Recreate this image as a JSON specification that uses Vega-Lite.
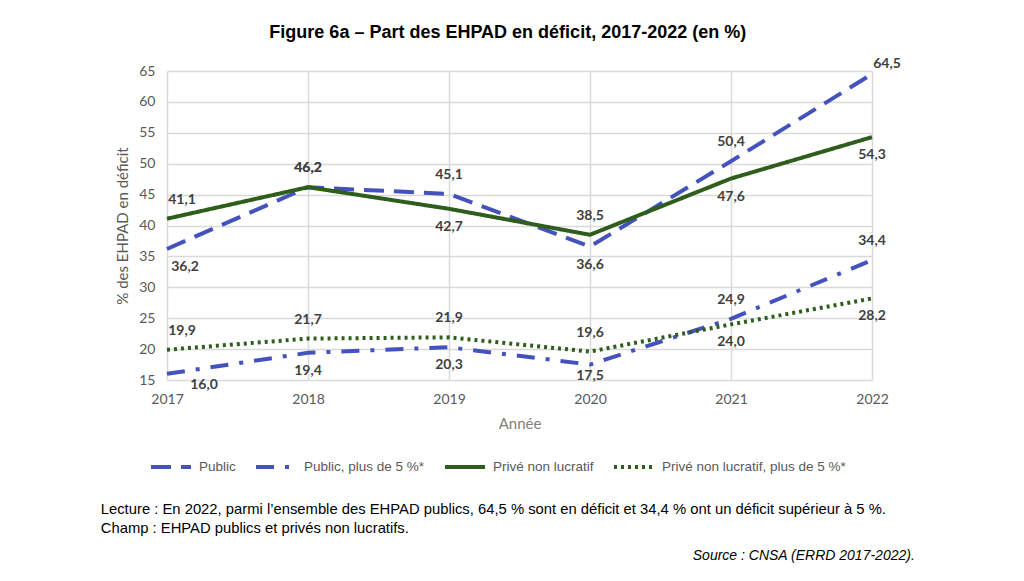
{
  "$schema": "https://vega.github.io/schema/vega-lite/v6.json",
  "padding": {"left": 100, "top": 24, "right": 10, "bottom": 5},
  "config": {
    "locale": {"number": {"decimal": ",", "thousands": " ", "grouping": [3], "currency": ["", " €"]}},
    "view": {"stroke": null},
    "font": "Lato"
  },
  "title": {
    "text": "Figure 6a – Part des EHPAD en déficit, 2017-2022 (en %)",
    "font": "Liberation Sans", "fontSize": 18, "fontWeight": "bold", "color": "#000000",
    "anchor": "middle", "offset": 15
  },
  "vconcat": [
    {
      "title": {
        "text": "Source : CNSA (ERRD 2017-2022).",
        "orient": "bottom", "anchor": "end",
        "font": "Liberation Sans", "fontStyle": "italic", "fontWeight": "normal",
        "fontSize": 14, "color": "#000000", "offset": 13, "dx": 14
      },
      "vconcat": [
        {
          "title": {
            "text": [
              "Lecture : En 2022, parmi l’ensemble des EHPAD publics, 64,5 % sont en déficit et 34,4 % ont un déficit supérieur à 5 %.",
              "Champ : EHPAD publics et privés non lucratifs."
            ],
            "orient": "bottom", "anchor": "start", "frame": "bounds",
            "font": "Liberation Sans", "fontWeight": "normal", "fontSize": 14.8,
            "lineHeight": 19, "color": "#000000", "offset": 71, "dx": -15
          },
          "width": 705,
          "height": 309,
          "data": {
            "values": [
              {"year": 2017, "serie": "Public", "groupe": "ensemble", "value": 36.2},
              {"year": 2018, "serie": "Public", "groupe": "ensemble", "value": 46.2},
              {"year": 2019, "serie": "Public", "groupe": "ensemble", "value": 45.1},
              {"year": 2020, "serie": "Public", "groupe": "ensemble", "value": 36.6},
              {"year": 2021, "serie": "Public", "groupe": "ensemble", "value": 50.4},
              {"year": 2022, "serie": "Public", "groupe": "ensemble", "value": 64.5},
              {"year": 2017, "serie": "Public, plus de 5 %*", "groupe": "plus5", "value": 16.0},
              {"year": 2018, "serie": "Public, plus de 5 %*", "groupe": "plus5", "value": 19.4},
              {"year": 2019, "serie": "Public, plus de 5 %*", "groupe": "plus5", "value": 20.3},
              {"year": 2020, "serie": "Public, plus de 5 %*", "groupe": "plus5", "value": 17.5},
              {"year": 2021, "serie": "Public, plus de 5 %*", "groupe": "plus5", "value": 24.9},
              {"year": 2022, "serie": "Public, plus de 5 %*", "groupe": "plus5", "value": 34.4},
              {"year": 2017, "serie": "Privé non lucratif", "groupe": "ensemble", "value": 41.1},
              {"year": 2018, "serie": "Privé non lucratif", "groupe": "ensemble", "value": 46.2},
              {"year": 2019, "serie": "Privé non lucratif", "groupe": "ensemble", "value": 42.7},
              {"year": 2020, "serie": "Privé non lucratif", "groupe": "ensemble", "value": 38.5},
              {"year": 2021, "serie": "Privé non lucratif", "groupe": "ensemble", "value": 47.6},
              {"year": 2022, "serie": "Privé non lucratif", "groupe": "ensemble", "value": 54.3},
              {"year": 2017, "serie": "Privé non lucratif, plus de 5 %*", "groupe": "plus5", "value": 19.9},
              {"year": 2018, "serie": "Privé non lucratif, plus de 5 %*", "groupe": "plus5", "value": 21.7},
              {"year": 2019, "serie": "Privé non lucratif, plus de 5 %*", "groupe": "plus5", "value": 21.9},
              {"year": 2020, "serie": "Privé non lucratif, plus de 5 %*", "groupe": "plus5", "value": 19.6},
              {"year": 2021, "serie": "Privé non lucratif, plus de 5 %*", "groupe": "plus5", "value": 24.0},
              {"year": 2022, "serie": "Privé non lucratif, plus de 5 %*", "groupe": "plus5", "value": 28.2}
            ]
          },
          "encoding": {
            "x": {
              "field": "year", "type": "quantitative",
              "scale": {"domain": [2017, 2022], "nice": false, "zero": false},
              "axis": {
                "title": "Année",
                "values": [2017, 2017.5, 2018, 2018.5, 2019, 2019.5, 2020, 2020.5, 2021, 2021.5, 2022],
                "format": "d",
                "labelExpr": "datum.value % 1 ? '' : datum.label",
                "labelOverlap": false, "labelFlush": false,
                "domain": false, "ticks": false, "tickSize": 0,
                "grid": true, "gridColor": "#d9d9d9", "gridWidth": 1.5,
                "labelColor": "#595959", "labelFont": "Lato", "labelFontSize": 14, "labelPadding": 12,
                "titleColor": "#808080", "titleFont": "Lato", "titleFontSize": 15, "titleFontWeight": "normal",
                "titlePadding": 10
              }
            },
            "y": {
              "field": "value", "type": "quantitative",
              "scale": {"domain": [15, 65], "nice": false, "zero": false},
              "axis": {
                "title": "% des EHPAD en déficit",
                "values": [15, 20, 25, 30, 35, 40, 45, 50, 55, 60, 65],
                "domain": false, "ticks": false, "tickSize": 0,
                "grid": true, "gridColor": "#d9d9d9", "gridWidth": 1.5,
                "labelColor": "#595959", "labelFont": "Lato", "labelFontSize": 14, "labelPadding": 12,
                "titleColor": "#595959", "titleFont": "Lato", "titleFontSize": 15, "titleFontWeight": "normal",
                "titlePadding": 8
              }
            }
          },
          "layer": [
            {
              "mark": {"type": "line", "strokeWidth": 4},
              "encoding": {
                "color": {
                  "field": "serie", "type": "nominal",
                  "scale": {
                    "domain": ["Public", "Public, plus de 5 %*", "Privé non lucratif", "Privé non lucratif, plus de 5 %*"],
                    "range": ["#4452be", "#4452be", "#2f5e1c", "#2f5e1c"]
                  },
                  "legend": {
                    "title": null, "orient": "none", "legendX": -18, "legendY": 374,
                    "direction": "horizontal", "columns": 4, "columnPadding": 12,
                    "symbolType": "stroke", "symbolSize": 1600, "symbolStrokeWidth": 4,
                    "labelFont": "Liberation Sans", "labelFontSize": 13.5, "labelColor": "#595959",
                    "labelOffset": 6, "labelLimit": 300
                  }
                },
                "strokeDash": {
                  "field": "serie", "type": "nominal",
                  "scale": {
                    "domain": ["Public", "Public, plus de 5 %*", "Privé non lucratif", "Privé non lucratif, plus de 5 %*"],
                    "range": [[20, 10], [18, 11, 4, 11], [1, 0], [3, 4]]
                  },
                  "legend": {
                    "title": null, "orient": "none", "legendX": -18, "legendY": 374,
                    "direction": "horizontal", "columns": 4, "columnPadding": 12,
                    "symbolType": "stroke", "symbolSize": 1600, "symbolStrokeWidth": 4,
                    "labelFont": "Liberation Sans", "labelFontSize": 13.5, "labelColor": "#595959",
                    "labelOffset": 6, "labelLimit": 300
                  }
                }
              }
            },
            {
              "transform": [
                {"joinaggregate": [{"op": "max", "field": "value", "as": "mx"}], "groupby": ["year", "groupe"]},
                {"filter": "datum.value >= datum.mx"}
              ],
              "mark": {
                "type": "text", "fontWeight": "bold", "fontSize": 14, "font": "Lato", "color": "#404040",
                "baseline": "middle",
                "dy": {"expr": "datum.value > 60 ? -10 : -19"},
                "dx": {"expr": "datum.year == 2017 ? 15 : (datum.year == 2022 && datum.value > 60 ? 15 : 0)"}
              },
              "encoding": {
                "text": {"field": "value", "type": "quantitative", "format": ".1f"}
              }
            },
            {
              "transform": [
                {"joinaggregate": [{"op": "max", "field": "value", "as": "mx"}], "groupby": ["year", "groupe"]},
                {"filter": "datum.value < datum.mx"}
              ],
              "mark": {
                "type": "text", "fontWeight": "bold", "fontSize": 14, "font": "Lato", "color": "#404040",
                "baseline": "middle",
                "dy": {"expr": "datum.value < 18 ? 11 : 18"},
                "dx": {"expr": "datum.year == 2017 ? (datum.value < 18 ? 37 : 18) : 0"}
              },
              "encoding": {
                "text": {"field": "value", "type": "quantitative", "format": ".1f"}
              }
            }
          ]
        }
      ]
    }
  ]
}
